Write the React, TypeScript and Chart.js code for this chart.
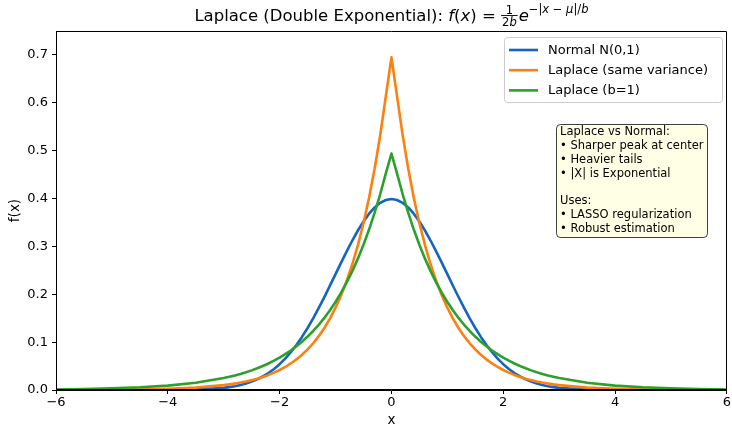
import React, { useEffect, useRef } from "react";
import { Chart, registerables } from "chart.js";

Chart.register(...registerables);

const xValues = [
  -6, -5.5, -5, -4.5, -4, -3.5,
  -3, -2.9, -2.8, -2.7, -2.6, -2.5, -2.4, -2.3, -2.2, -2.1,
  -2, -1.9, -1.8, -1.7, -1.6, -1.5, -1.4, -1.3, -1.2, -1.1,
  -1, -0.9, -0.8, -0.7, -0.6, -0.5, -0.4, -0.3, -0.2, -0.1,
  0,
  0.1, 0.2, 0.3, 0.4, 0.5, 0.6, 0.7, 0.8, 0.9, 1,
  1.1, 1.2, 1.3, 1.4, 1.5, 1.6, 1.7, 1.8, 1.9, 2,
  2.1, 2.2, 2.3, 2.4, 2.5, 2.6, 2.7, 2.8, 2.9, 3,
  3.5, 4, 4.5, 5, 5.5, 6,
];

const normalPdf = [
  0.0, 0.0, 0.0, 0.0, 0.0001, 0.0009,
  0.0044, 0.006, 0.0079, 0.0104, 0.0136, 0.0175, 0.0224, 0.0283, 0.0355, 0.044,
  0.054, 0.0656, 0.079, 0.094, 0.1109, 0.1295, 0.1497, 0.1714, 0.1942, 0.2179,
  0.242, 0.2661, 0.2897, 0.3123, 0.3332, 0.3521, 0.3683, 0.3814, 0.391, 0.397,
  0.3989,
  0.397, 0.391, 0.3814, 0.3683, 0.3521, 0.3332, 0.3123, 0.2897, 0.2661, 0.242,
  0.2179, 0.1942, 0.1714, 0.1497, 0.1295, 0.1109, 0.094, 0.079, 0.0656, 0.054,
  0.044, 0.0355, 0.0283, 0.0224, 0.0175, 0.0136, 0.0104, 0.0079, 0.006, 0.0044,
  0.0009, 0.0001, 0.0, 0.0, 0.0, 0.0,
];

const laplaceSameVar = [
  0.0001, 0.0003, 0.0006, 0.0012, 0.0025, 0.005,
  0.0102, 0.0117, 0.0135, 0.0155, 0.0179, 0.0206, 0.0237, 0.0273, 0.0315, 0.0363,
  0.0418, 0.0481, 0.0555, 0.0639, 0.0736, 0.0848, 0.0976, 0.1125, 0.1296, 0.1492,
  0.1719, 0.198, 0.2281, 0.2627, 0.3027, 0.3486, 0.4016, 0.4626, 0.5329, 0.6139,
  0.695,
  0.6139, 0.5329, 0.4626, 0.4016, 0.3486, 0.3027, 0.2627, 0.2281, 0.198, 0.1719,
  0.1492, 0.1296, 0.1125, 0.0976, 0.0848, 0.0736, 0.0639, 0.0555, 0.0481, 0.0418,
  0.0363, 0.0315, 0.0273, 0.0237, 0.0206, 0.0179, 0.0155, 0.0135, 0.0117, 0.0102,
  0.005, 0.0025, 0.0012, 0.0006, 0.0003, 0.0001,
];

const laplaceB1 = [
  0.0012, 0.002, 0.0034, 0.0056, 0.0092, 0.0151,
  0.0249, 0.0275, 0.0304, 0.0336, 0.0371, 0.041, 0.0454, 0.0501, 0.0554, 0.0612,
  0.0677, 0.0748, 0.0826, 0.0913, 0.1009, 0.1116, 0.1233, 0.1363, 0.1506, 0.1665,
  0.1839, 0.2033, 0.2247, 0.2483, 0.2744, 0.3033, 0.3352, 0.3704, 0.4094, 0.4524,
  0.494,
  0.4524, 0.4094, 0.3704, 0.3352, 0.3033, 0.2744, 0.2483, 0.2247, 0.2033, 0.1839,
  0.1665, 0.1506, 0.1363, 0.1233, 0.1116, 0.1009, 0.0913, 0.0826, 0.0748, 0.0677,
  0.0612, 0.0554, 0.0501, 0.0454, 0.041, 0.0371, 0.0336, 0.0304, 0.0275, 0.0249,
  0.0151, 0.0092, 0.0056, 0.0034, 0.002, 0.0012,
];

const xTicks = [-6, -4, -2, 0, 2, 4, 6];
const yTicks = [0, 0.1, 0.2, 0.3, 0.4, 0.5, 0.6, 0.7];
const seriesLabels = ["Normal N(0,1)", "Laplace (same variance)", "Laplace (b=1)"];
const seriesColors = ["#1565c0", "#ff7f0e", "#2ca02c"];
const noteLines = [
  "Laplace vs Normal:",
  "• Sharper peak at center",
  "• Heavier tails",
  "• |X| is Exponential",
  "",
  "Uses:",
  "• LASSO regularization",
  "• Robust estimation",
];

const FAM = '"DejaVu Sans"';
const font = (size: number, italic = false) => `${italic ? "italic " : ""}${size}px ${FAM}`;

type Piece = { t: string; italic?: boolean };

function drawTitle(ctx: CanvasRenderingContext2D, cx: number, baseline: number) {
  const big = 16.5;
  const small = 11.5;
  const supSmall = 11.5;
  const main: Piece[] = [
    { t: "Laplace (Double Exponential): " },
    { t: "f", italic: true },
    { t: "(" },
    { t: "x", italic: true },
    { t: ")" },
    { t: " = " },
  ];
  const num: Piece[] = [{ t: "1" }];
  const den: Piece[] = [{ t: "2" }, { t: "b", italic: true }];
  const eP: Piece[] = [{ t: "e", italic: true }];
  const sup: Piece[] = [
    { t: "−|" },
    { t: "x", italic: true },
    { t: " − " },
    { t: "μ", italic: true },
    { t: "|/" },
    { t: "b", italic: true },
  ];
  const w = (ps: Piece[], sz: number) =>
    ps.reduce((acc, p) => {
      ctx.font = font(sz, p.italic);
      return acc + ctx.measureText(p.t).width;
    }, 0);
  const draw = (ps: Piece[], sz: number, x: number, y: number) => {
    let cur = x;
    for (const p of ps) {
      ctx.font = font(sz, p.italic);
      ctx.fillText(p.t, cur, y);
      cur += ctx.measureText(p.t).width;
    }
    return cur;
  };
  const wMain = w(main, big);
  const wNum = w(num, small);
  const wDen = w(den, small);
  const wFrac = Math.max(wNum, wDen) + 2;
  const wE = w(eP, big);
  const wSup = w(sup, supSmall);
  const total = wMain + wFrac + 1 + wE + wSup;
  let x = cx - total / 2;
  ctx.save();
  ctx.fillStyle = "#000";
  ctx.textAlign = "left";
  ctx.textBaseline = "alphabetic";
  x = draw(main, big, x, baseline);
  const barY = baseline - 5.5;
  draw(num, small, x + (wFrac - wNum) / 2, barY - 2);
  draw(den, small, x + (wFrac - wDen) / 2, barY + 10);
  ctx.strokeStyle = "#000";
  ctx.lineWidth = 0.9;
  ctx.beginPath();
  ctx.moveTo(x, barY);
  ctx.lineTo(x + wFrac, barY);
  ctx.stroke();
  x += wFrac + 1;
  x = draw(eP, big, x, baseline);
  draw(sup, supSmall, x, baseline - 8);
  ctx.restore();
}

const overlayPlugin = {
  id: "overlay",
  afterDraw(chart: any) {
    const ctx: CanvasRenderingContext2D = chart.ctx;
    const { left, right, top, bottom } = chart.chartArea;
    const yScale = chart.scales.y;
    ctx.save();
    // frame
    ctx.strokeStyle = "#000";
    ctx.lineWidth = 1;
    ctx.beginPath();
    ctx.rect(Math.round(left) + 0.5, Math.round(top) + 0.5, Math.round(right - left) - 1, Math.round(bottom - top) - 1);
    ctx.stroke();
    // horizontal line at y=0
    const y0 = yScale.getPixelForValue(0);
    ctx.lineWidth = 1.2;
    ctx.beginPath();
    ctx.moveTo(left, y0 - 0.5);
    ctx.lineTo(right, y0 - 0.5);
    ctx.stroke();

    // title
    drawTitle(ctx, (left + right) / 2, 21);

    // axis labels
    ctx.fillStyle = "#000";
    ctx.font = font(13.5);
    ctx.textAlign = "center";
    ctx.textBaseline = "middle";
    ctx.fillText("x", (left + right) / 2, 420);
    ctx.save();
    ctx.translate(15, (top + bottom) / 2);
    ctx.rotate(-Math.PI / 2);
    ctx.fillText("f(x)", 0, 0);
    ctx.restore();

    // legend
    const lx = 504, ly = 37, lw = 218, lh = 65;
    ctx.beginPath();
    ctx.roundRect(lx + 0.5, ly + 0.5, lw, lh, 3);
    ctx.fillStyle = "rgba(255,255,255,0.8)";
    ctx.fill();
    ctx.strokeStyle = "#cccccc";
    ctx.lineWidth = 1;
    ctx.stroke();
    ctx.font = font(13);
    ctx.textAlign = "left";
    ctx.textBaseline = "middle";
    seriesLabels.forEach((lab, i) => {
      const yy = 50 + i * 20.2;
      ctx.strokeStyle = seriesColors[i];
      ctx.lineWidth = 2.6;
      ctx.beginPath();
      ctx.moveTo(509, yy);
      ctx.lineTo(538, yy);
      ctx.stroke();
      ctx.fillStyle = "#000";
      ctx.fillText(lab, 548, yy + 0.5);
    });

    // note box
    const nx = 556, ny = 124, nw = 151, nh = 113;
    ctx.beginPath();
    ctx.roundRect(nx + 0.5, ny + 0.5, nw, nh, 4);
    ctx.fillStyle = "rgba(255,255,224,0.8)";
    ctx.fill();
    ctx.strokeStyle = "rgba(0,0,0,0.75)";
    ctx.lineWidth = 1;
    ctx.stroke();
    ctx.fillStyle = "#000";
    ctx.font = font(11.5);
    ctx.textBaseline = "middle";
    noteLines.forEach((ln, i) => {
      if (ln) ctx.fillText(ln, 560, 132 + i * 13.9);
    });
    ctx.restore();
  },
};

export default function App() {
  const canvasRef = useRef<HTMLCanvasElement | null>(null);
  useEffect(() => {
    const canvas = canvasRef.current;
    if (!canvas) return;
    const mk = (arr: number[]) => xValues.map((x, i) => ({ x, y: arr[i] }));
    const allSeries = [normalPdf, laplaceSameVar, laplaceB1];
    const chart = new Chart(canvas, {
      type: "line",
      data: {
        datasets: allSeries.map((arr, i) => ({
          label: seriesLabels[i],
          data: mk(arr),
          borderColor: seriesColors[i],
          backgroundColor: seriesColors[i],
          borderWidth: 2.6,
          borderJoinStyle: "round",
          borderCapStyle: "round",
          pointRadius: 0,
          tension: 0,
          fill: false,
          order: 2 - i,
        })),
      },
      options: {
        animation: false,
        responsive: false,
        devicePixelRatio: 1,
        layout: { padding: { left: 0, top: 31, right: 5, bottom: 0 } },
        plugins: { legend: { display: false }, tooltip: { enabled: false }, title: { display: false } },
        scales: {
          x: {
            type: "linear",
            min: -6,
            max: 6,
            afterBuildTicks: (s: any) => {
              s.ticks = xTicks.map((v) => ({ value: v }));
            },
            afterFit: (s: any) => {
              s.height = 36;
            },
            grid: { display: true, drawOnChartArea: false, drawTicks: true, tickLength: 4, color: "#000", lineWidth: 1 },
            border: { display: true, color: "#000", width: 1 },
            ticks: {
              color: "#000",
              font: { family: "DejaVu Sans", size: 13 },
              padding: 1,
              maxRotation: 0,
              autoSkip: false,
              callback: (v: any) => String(v).replace("-", "\u2212"),
            },
          },
          y: {
            type: "linear",
            min: 0,
            max: 0.75,
            afterBuildTicks: (s: any) => {
              s.ticks = yTicks.map((v) => ({ value: v }));
            },
            afterFit: (s: any) => {
              s.width = 56;
            },
            grid: { display: true, drawOnChartArea: false, drawTicks: true, tickLength: 4, color: "#000", lineWidth: 1 },
            border: { display: true, color: "#000", width: 1 },
            ticks: {
              color: "#000",
              font: { family: "DejaVu Sans", size: 13 },
              padding: 4,
              autoSkip: false,
              callback: (v: any) => Number(v).toFixed(1),
            },
          },
        },
      },
      plugins: [overlayPlugin],
    });
    return () => chart.destroy();
  }, []);
  return (
    <div style={{ position: "fixed", left: 0, top: 0, width: 732, height: 426, background: "#fff" }}>
      <canvas ref={canvasRef} width={732} height={426} style={{ display: "block", width: 732, height: 426 }} />
    </div>
  );
}
